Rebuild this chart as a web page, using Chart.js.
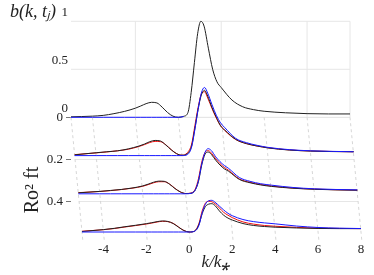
<!DOCTYPE html>
<html><head><meta charset="utf-8">
<script src="https://cdn.jsdelivr.net/npm/chart.js@4/dist/chart.umd.min.js"></script>
<style>html,body{margin:0;padding:0;background:#fff}</style>
</head><body>
<canvas id="c" width="374" height="275"></canvas>
<script>
// ---- data ----
const K = [-5, -4, -3.5, -3, -2.5, -2, -1.75, -1.5, -1.25, -1, -0.75, -0.5, -0.25, 0, 0.25, 0.45, 0.6, 0.75, 0.9, 1.05, 1.2, 1.4, 1.6, 1.8, 2, 2.5, 3, 3.5, 4, 5, 6, 7, 8];
const SLICE_T = [0, 0.2, 0.4, 0.6];
// slice Ro^2 f t = 0 (only data and the flat blue part are visible)
const DATA_0  = [0.005,0.012,0.02,0.038,0.062,0.095,0.118,0.142,0.156,0.15,0.105,0.05,0.012,0,0.01,0.05,0.26,0.57,0.87,1.0,0.95,0.72,0.5,0.37,0.31,0.18,0.11,0.08,0.063,0.047,0.038,0.035,0.035];
const RED_0   = [];
const BLUE_0  = [0,0,0,0,0,0,0,0,0,0,0,0,0,0,0.008];
// slice 0.2
const DATA_1  = [0.008,0.03,0.04,0.05,0.07,0.1,0.12,0.145,0.158,0.152,0.11,0.06,0.02,0.004,0.02,0.1,0.28,0.48,0.63,0.68,0.62,0.5,0.4,0.31,0.265,0.17,0.125,0.1,0.08,0.058,0.047,0.042,0.04];
const RED_1   = [0.01,0.028,0.038,0.05,0.066,0.095,0.114,0.136,0.148,0.145,0.112,0.062,0.02,0.004,0.03,0.12,0.31,0.5,0.64,0.665,0.6,0.49,0.39,0.31,0.26,0.168,0.125,0.1,0.082,0.059,0.048,0.043,0.04];
const BLUE_1  = [0,0,0,0,0,0,0,0,0,0,0,0,0,0,0.01,0.09,0.27,0.48,0.65,0.71,0.65,0.53,0.42,0.34,0.29,0.18,0.135,0.107,0.086,0.062,0.05,0.044,0.04];
// slice 0.4
const DATA_2  = [0.01,0.025,0.035,0.045,0.06,0.082,0.1,0.12,0.132,0.13,0.1,0.055,0.02,0.003,0.005,0.04,0.13,0.3,0.41,0.435,0.41,0.35,0.3,0.26,0.235,0.15,0.115,0.092,0.077,0.058,0.047,0.041,0.037];
const RED_2   = [0.012,0.024,0.033,0.044,0.058,0.078,0.095,0.114,0.126,0.126,0.102,0.057,0.02,0.003,0.008,0.05,0.16,0.33,0.43,0.45,0.425,0.365,0.315,0.275,0.245,0.155,0.12,0.097,0.081,0.06,0.049,0.042,0.038];
const BLUE_2  = [0,0,0,0,0,0,0,0,0,0,0,0,0,0,0.005,0.04,0.14,0.31,0.43,0.47,0.45,0.385,0.335,0.295,0.265,0.17,0.13,0.105,0.09,0.066,0.052,0.045,0.041];
// slice 0.6
const DATA_3  = [0.005,0.025,0.038,0.055,0.07,0.087,0.097,0.108,0.115,0.11,0.088,0.05,0.015,0,0.01,0.08,0.19,0.265,0.29,0.295,0.275,0.22,0.175,0.145,0.125,0.088,0.068,0.057,0.05,0.042,0.037,0.035,0.035];
const RED_3   = [0.008,0.024,0.036,0.052,0.067,0.083,0.093,0.104,0.111,0.108,0.09,0.052,0.015,0,0.01,0.09,0.22,0.3,0.32,0.315,0.295,0.25,0.205,0.175,0.15,0.105,0.082,0.068,0.06,0.048,0.04,0.037,0.035];
const BLUE_3  = [0,0,0,0,0,0,0,0,0,0,0,0,0,0,0.008,0.07,0.2,0.29,0.325,0.33,0.31,0.27,0.23,0.195,0.17,0.13,0.108,0.095,0.085,0.062,0.047,0.04,0.036];

const X_TICKS = [-4, -2, 0, 2, 4, 6, 8];
const T_TICKS = [0, 0.2, 0.4];
const B_TICKS = [0, 0.5, 1];
const BACK_K_GRID = [-2, 2, 6, 8];
const FLOOR_K_GRID = [-5, -4, -2, 0, 2, 4, 6, 8];
const K_MIN = -5, K_MAX = 8;

// ---- layout (pixels) ----
const LAY = {padL: 10, padR: 13, left: 71, right: 361, top: 22, bottom: 238,
  shift: 11, base: [117.3, 155.6, 193.8, 232], pxPerB: 96, t0: 117.5, pxPerT: 210};
const pxPerK = (LAY.right - LAY.left - LAY.shift) / (K_MAX - K_MIN);
const SERIF = 'Liberation Serif';
const TICK_FONT = {family: SERIF, size: 13};
const INK = '#222';
const fmt = v => String(+v);

// widest back-wall label, so the mirrored labels can be right-aligned just left of the wall
const mctx = document.createElement('canvas').getContext('2d');
mctx.font = 'normal ' + TICK_FONT.size + 'px ' + SERIF;
const widestB = Math.max(...B_TICKS.map(v => mctx.measureText(fmt(v)).width));

const SERIES = [[DATA_0, RED_0, BLUE_0], [DATA_1, RED_1, BLUE_1], [DATA_2, RED_2, BLUE_2], [DATA_3, RED_3, BLUE_3]];
const COLORS = ['#202020', '#f01010', '#1818ff'];
const LAYER = [1, 2, 0]; // lower = drawn on top

const datasets = [];
SERIES.forEach((trip, j) => trip.forEach((vals, s) => {
  if (!vals.length) return;
  datasets.push({
    label: ['data', 'model A', 'model B'][s] + ' t=' + SLICE_T[j],
    data: vals.map((v, i) => ({x: K[i], y: v})),
    xAxisID: 'x' + j, yAxisID: 'y' + j,
    borderColor: COLORS[s], borderWidth: 1, pointRadius: 0,
    cubicInterpolationMode: 'monotone', clip: false,
    order: (3 - j) * 10 + LAYER[s]
  });
}));

const scales = {};
for (let j = 0; j < 4; j++) {
  const xmin = K_MIN - (LAY.shift * j / 3) / pxPerK;
  scales['x' + j] = {
    type: 'linear', position: 'bottom', display: j === 3,
    min: xmin, max: xmin + (LAY.right - LAY.left) / pxPerK,
    afterBuildTicks: sc => { sc.ticks = X_TICKS.map(v => ({value: v})); },
    afterFit: sc => { if (j === 3) sc.height = 275 - LAY.bottom; },
    grid: {display: false, drawTicks: false}, border: {display: false},
    ticks: {padding: 4, color: INK, font: TICK_FONT, maxRotation: 0, autoSkip: false, callback: fmt},
    title: {display: j === 3, text: 'k/k\u204E', color: INK, padding: {top: 0, bottom: 2},
      font: {family: SERIF, size: 17, style: 'italic'}}
  };
  scales['y' + j] = {
    type: 'linear', position: 'left', display: j === 0, weight: 0,
    min: -(LAY.bottom - LAY.base[j]) / LAY.pxPerB, max: (LAY.base[j] - LAY.top) / LAY.pxPerB,
    afterBuildTicks: sc => { sc.ticks = B_TICKS.map(v => ({value: v})); },
    afterFit: sc => { sc.width = 0; },
    grid: {display: false, drawTicks: false}, border: {display: false},
    ticks: {mirror: true, crossAlign: 'far', padding: -(3 + widestB), labelOffset: -9,
      color: INK, font: TICK_FONT, autoSkip: false, callback: fmt}
  };
}
scales.t = {
  type: 'linear', position: 'left', weight: 1, reverse: true,
  min: -(LAY.t0 - LAY.top) / LAY.pxPerT, max: (LAY.bottom - LAY.t0) / LAY.pxPerT,
  afterBuildTicks: sc => { sc.ticks = T_TICKS.map(v => ({value: v})); },
  afterFit: sc => { sc.width = LAY.left - LAY.padL; },
  grid: {display: true, drawOnChartArea: false, drawTicks: true, tickLength: 5, color: '#777'},
  border: {display: false},
  ticks: {padding: 3, color: INK, font: TICK_FONT, autoSkip: false, callback: fmt}
};

const box3d = {
  id: 'box3d',
  beforeDatasetsDraw(chart) {
    const ctx = chart.ctx, s = chart.scales, ca = chart.chartArea;
    const xb = s.x0, yb = s.y0, xf = s.x3, yf = s.y3;
    const yBack = yb.getPixelForValue(0), yFront = yf.getPixelForValue(0);
    const floorX = (k, y) => { const a = xb.getPixelForValue(k), b = xf.getPixelForValue(k); return a + (b - a) * (y - yBack) / (yFront - yBack); };
    const seg = (x1, y1, x2, y2) => { ctx.beginPath(); ctx.moveTo(x1, y1); ctx.lineTo(x2, y2); ctx.stroke(); };
    ctx.save();
    ctx.lineWidth = 1; ctx.strokeStyle = '#e6e6e6';
    B_TICKS.forEach(v => { const y = yb.getPixelForValue(v); seg(xb.getPixelForValue(K_MIN), y, xb.getPixelForValue(K_MAX), y); });
    BACK_K_GRID.forEach(k => { const x = xb.getPixelForValue(k); seg(x, yBack, x, yb.getPixelForValue(1)); });
    T_TICKS.forEach(t => { const y = s.t.getPixelForValue(t); seg(floorX(K_MIN, y), y, floorX(K_MAX, y), y); });
    ctx.setLineDash([3, 3]); ctx.strokeStyle = '#d6d6d6';
    FLOOR_K_GRID.forEach(k => seg(xb.getPixelForValue(k), yBack, floorX(k, ca.bottom + 3), ca.bottom + 3));
    ctx.restore();
  },
  afterDraw(chart) {
    const ctx = chart.ctx;
    ctx.save();
    ctx.translate(33, 190); ctx.rotate(-Math.PI / 2);
    ctx.font = '20px "' + SERIF + '"'; ctx.fillStyle = INK;
    ctx.textAlign = 'center'; ctx.textBaseline = 'middle';
    ctx.fillText('Ro\u00B2 ft', 0, 0);
    ctx.restore();
  }
};

new Chart(document.getElementById('c'), {
  type: 'line',
  data: {datasets},
  options: {
    responsive: false, animation: false, devicePixelRatio: 1,
    layout: {padding: {left: LAY.padL, right: LAY.padR, top: 0, bottom: 0}, autoPadding: false},
    scales,
    plugins: {
      legend: {display: false}, tooltip: {enabled: false},
      title: {display: true, text: 'b(k, t\u2C7C)', align: 'start', color: INK,
        font: {family: SERIF, size: 18, style: 'italic', weight: 'normal', lineHeight: 1}, padding: {top: 3, bottom: 1}}
    }
  },
  plugins: [box3d]
});
</script>
</body></html>
